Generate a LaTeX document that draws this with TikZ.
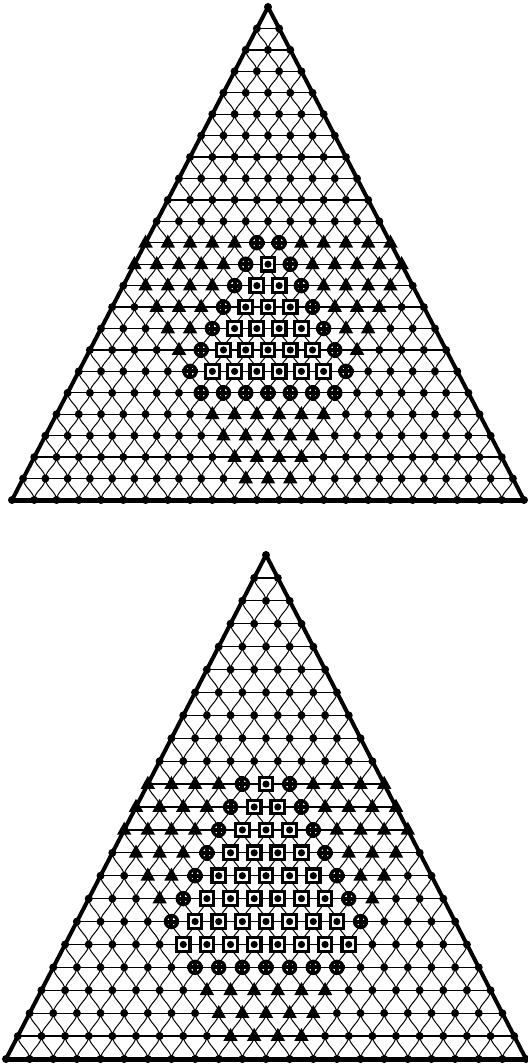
\documentclass[tikz,border=0pt]{standalone}
\usetikzlibrary{calc}
\tikzset{
  gridline/.style={line width=1pt},
  rowline/.style={line width=1.3pt},
  rim/.style={line width=4pt,line join=miter},
  pics/trimark/.style={code={\fill (-7.2,4.8) -- (7.2,4.8) -- (0,-8.2) -- cycle;}},
  pics/crossmark/.style={code={
    \filldraw[fill=white,line width=3.4pt] (0,0) circle (6);
    \draw[line width=4pt] (-7.7,0) -- (7.7,0) (0,-7.7) -- (0,7.7);}},
  pics/boxmark/.style={code={
    \filldraw[fill=white,line width=3.2pt] (-6.8,-6.8) rectangle (6.8,6.8);
    \fill (0,0) circle (3.6);}},
}
\def\lensdepth{8.5}
% #1 name, #2/#3 apex, #4 divisions, #5 half base, #6 height
\newcommand{\lattice}[6]{
  \foreach \r in {0,...,#4}
    \foreach \j in {0,...,\r}
      \coordinate (#1-\r-\j) at ({#2+(\j-\r/2)*2*#5/#4},{#3+\r*#6/#4});
  \pgfmathtruncatemacro\nlast{#4-1}
  \foreach \r in {0,...,\nlast}{
    \pgfmathtruncatemacro\rr{\r+1}
    \foreach \j in {0,...,\r}{
      \pgfmathtruncatemacro\jj{\j+1}
      \ifnum\j>0
        \draw[gridline] (#1-\r-\j) .. controls +(0,\lensdepth) and +(0,-\lensdepth) .. (#1-\rr-\j);
      \fi
      \ifnum\j<\r
        \draw[gridline] (#1-\r-\j) .. controls +(0,\lensdepth) and +(0,-\lensdepth) .. (#1-\rr-\jj);
      \fi
    }
  }
  \foreach \r in {1,...,\nlast}
    \draw[rowline] (#1-\r-0) -- (#1-\r-\r);
  \draw[rim] (#1-#4-0) -- (#1-0-0) -- (#1-#4-#4);
  \draw[line width=5pt] (#1-#4-0) -- (#1-#4-#4);
  \foreach \r in {0,...,#4}
    \foreach \j in {0,...,\r}
      \fill (#1-\r-\j) circle (4);
}

\begin{document}
\begin{tikzpicture}[x=1pt,y=-1pt]
  \useasboundingbox (0,0) rectangle (527,1064);

  % upper diagram
  \lattice{T}{268}{7}{23}{256}{493}
  \foreach \r/\a/\b in {11/0/4,11/7/11,12/0/4,12/8/12,13/1/4,13/9/12,
                        14/2/4,14/10/12,15/3/4,15/11/12,16/4/4,16/12/12,
                        19/7/12,20/8/12,21/9/12,22/10/12}
    \foreach \j in {\a,...,\b}
      \pic at (T-\r-\j) {trimark};
  \foreach \r/\a/\b in {11/5/6,12/5/5,12/7/7,13/5/5,13/8/8,14/5/5,14/9/9,
                        15/5/5,15/10/10,16/5/5,16/11/11,17/5/5,17/12/12,18/6/12}
    \foreach \j in {\a,...,\b}
      \pic at (T-\r-\j) {crossmark};
  \foreach \r/\a/\b in {12/6/6,13/6/7,14/6/8,15/6/9,16/6/10,17/6/11}
    \foreach \j in {\a,...,\b}
      \pic at (T-\r-\j) {boxmark};

  % lower diagram
  \lattice{B}{266}{555}{22}{260}{504}
  \foreach \r/\a/\b in {10/0/3,10/7/10,11/0/3,11/8/11,12/0/3,12/9/12,
                        13/1/3,13/10/12,14/2/3,14/11/12,15/3/3,15/12/12,
                        19/7/12,20/8/12,21/9/12}
    \foreach \j in {\a,...,\b}
      \pic at (B-\r-\j) {trimark};
  \foreach \r/\a/\b in {10/4/4,10/6/6,11/4/4,11/7/7,12/4/4,12/8/8,13/4/4,13/9/9,
                        14/4/4,14/10/10,15/4/4,15/11/11,16/4/4,16/12/12,18/6/12}
    \foreach \j in {\a,...,\b}
      \pic at (B-\r-\j) {crossmark};
  \foreach \r/\a/\b in {10/5/5,11/5/6,12/5/7,13/5/8,14/5/9,15/5/10,16/5/11,17/5/12}
    \foreach \j in {\a,...,\b}
      \pic at (B-\r-\j) {boxmark};
\end{tikzpicture}
\end{document}
